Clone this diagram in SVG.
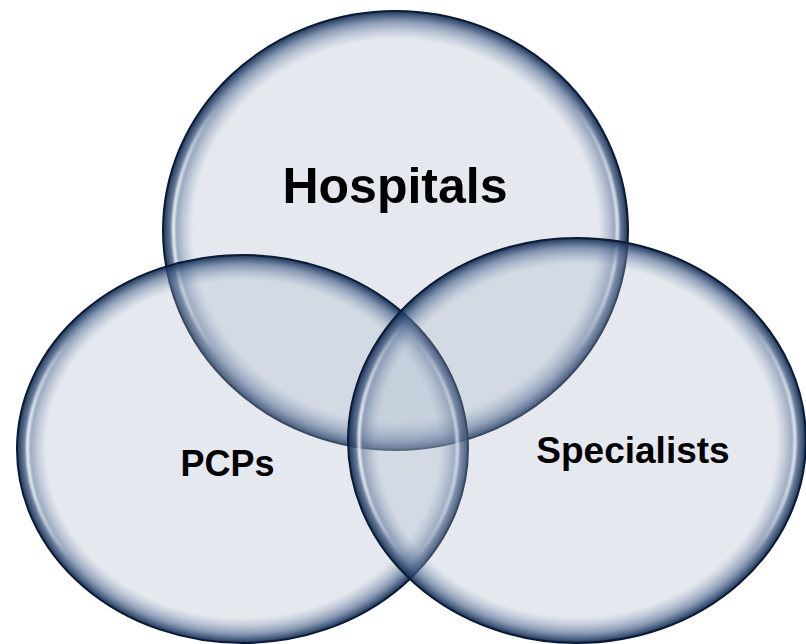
<svg xmlns="http://www.w3.org/2000/svg" width="806" height="644" viewBox="0 0 806 644">
  <defs>
    <radialGradient id="bubble" cx="0.5" cy="0.5" r="0.5">
      <stop offset="0" stop-color="#A9B6CA" stop-opacity="0.3"/>
      <stop offset="0.87" stop-color="#A9B6CA" stop-opacity="0.3"/>
      <stop offset="0.95" stop-color="#4F6890" stop-opacity="0.65"/>
      <stop offset="1" stop-color="#0F2A50" stop-opacity="0.95"/>
    </radialGradient>
    <linearGradient id="shine" x1="0" y1="0" x2="1" y2="0">
      <stop offset="0" stop-color="#FFFFFF" stop-opacity="0.95"/>
      <stop offset="0.1" stop-color="#FFFFFF" stop-opacity="0"/>
      <stop offset="0.9" stop-color="#FFFFFF" stop-opacity="0"/>
      <stop offset="1" stop-color="#FFFFFF" stop-opacity="0.85"/>
    </linearGradient>
    <filter id="soft" x="-5%" y="-5%" width="110%" height="110%">
      <feGaussianBlur stdDeviation="0.8"/>
    </filter>
  </defs>
  <style>
    .body { fill: url(#bubble); stroke: #0B1B33; stroke-width: 2; }
    .shine { fill: none; stroke: url(#shine); stroke-width: 3; filter: url(#soft); }
    .label { font-family: "Liberation Sans", Arial, sans-serif; font-weight: bold; fill: #000000; text-anchor: middle; }
  </style>
  <rect width="806" height="644" fill="#FFFFFF"/>
  <g id="hospitals">
    <ellipse class="body" cx="395.5" cy="230.5" rx="232.5" ry="219.5"/>
    <ellipse class="shine" cx="395.5" cy="230.5" rx="222" ry="209"/>
    <text class="label" x="395" y="203" font-size="50">Hospitals</text>
  </g>
  <g id="pcps">
    <ellipse class="body" cx="242.5" cy="449" rx="225.5" ry="194"/>
    <ellipse class="shine" cx="242.5" cy="449" rx="215" ry="184"/>
    <text class="label" x="227.5" y="476" font-size="36">PCPs</text>
  </g>
  <g id="specialists">
    <ellipse class="body" cx="577" cy="440.5" rx="229" ry="202.5"/>
    <ellipse class="shine" cx="577" cy="440.5" rx="218" ry="192"/>
    <text class="label" x="633" y="463" font-size="37">Specialists</text>
  </g>
  <g id="connectors"/>
</svg>
